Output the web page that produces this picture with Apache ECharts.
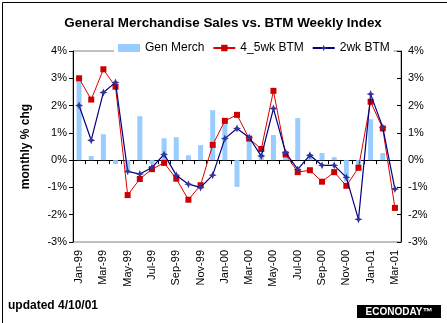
<!DOCTYPE html>
<html>
<head>
<meta charset="utf-8">
<script src="https://cdn.jsdelivr.net/npm/echarts@6/dist/echarts.min.js"></script>
<style>
  html, body { margin: 0; padding: 0; background: #fff; }
  #chart { width: 447px; height: 323px; }
</style>
</head>
<body>
<div id="chart"></div>
<script>
// Monthly categories, Jan-99 through Mar-01
const months = ['Jan-99','Feb-99','Mar-99','Apr-99','May-99','Jun-99','Jul-99','Aug-99','Sep-99','Oct-99','Nov-99','Dec-99',
                'Jan-00','Feb-00','Mar-00','Apr-00','May-00','Jun-00','Jul-00','Aug-00','Sep-00','Oct-00','Nov-00','Dec-00',
                'Jan-01','Feb-01','Mar-01'];

// General merchandise sales, monthly % change (Mar-01 not yet reported)
const genMerch = [2.95, 0.15, 0.95, -0.14, -0.37, 1.61, -0.14, 0.80, 0.84, 0.18, 0.55, 1.83,
                  1.47, -0.98, 0.77, 0.22, 0.92, 0.13, 1.54, 0.20, 0.26, 0.11, -0.78, -0.18,
                  1.50, 0.26, null];

// BTM weekly index, 4-5 week average, monthly % change
const btm45 = [3.00, 2.22, 3.33, 2.69, -1.28, -0.69, -0.33, -0.10, -0.68, -1.45, -0.92, 0.56,
               1.44, 1.66, 0.79, 0.41, 2.54, 0.21, -0.44, -0.37, -0.79, -0.44, -0.94, -0.28,
               2.14, 1.16, -1.75];

// BTM weekly index, 2 week average, monthly % change
const btm2 = [2.00, 0.73, 2.48, 2.85, -0.41, -0.51, -0.27, 0.21, -0.55, -0.88, -1.00, -0.55,
              0.79, 1.16, 0.83, 0.15, 1.89, 0.28, -0.34, 0.18, -0.19, -0.19, -0.63, -2.17,
              2.42, 1.20, -1.06];

// Value axis ticks (percent)
const yMin = -3, yMax = 4, yStep = 1;

const FONT = '"Liberation Sans", Arial, sans-serif';
const star = 'path://M0,-10 L3,-3 L10,0 L3,3 L0,10 L-3,3 L-10,0 L-3,-3 Z';

const chart = echarts.init(document.getElementById('chart'), null, { renderer: 'canvas' });

const yAxisBase = {
  type: 'value', min: yMin, max: yMax, interval: yStep,
  splitLine: { show: false },
  axisLine: { show: true, lineStyle: { color: '#000', width: 1 } },
  axisTick: { show: true, length: 4, lineStyle: { color: '#000' } },
  axisLabel: { formatter: '{value}%', color: '#000', fontFamily: FONT, fontSize: 11 }
};

chart.setOption({
  animation: false,
  backgroundColor: '#fff',
  grid: {
    left: 73, right: 46, top: 51, bottom: 81,
    show: true, borderColor: '#808080', borderWidth: 1, backgroundColor: 'transparent'
  },
  legend: {
    left: 114, top: 40,
    backgroundColor: '#fff',
    padding: [2, 4, 2, 4],
    itemWidth: 22, itemHeight: 8, itemGap: 8,
    textStyle: { fontFamily: FONT, fontSize: 12, color: '#000' },
    data: [
      { name: 'Gen Merch', icon: 'rect' },
      { name: '4_5wk BTM' },
      { name: '2wk BTM' }
    ]
  },
  xAxis: [
    {
      type: 'category', data: months, position: 'bottom',
      axisLine: { show: false },
      axisTick: { show: false },
      axisLabel: {
        interval: 1, rotate: 90, margin: 8,
        color: '#000', fontFamily: FONT, fontSize: 11
      }
    },
    {
      type: 'category', data: months, position: 'bottom',
      axisLine: { show: true, onZero: true, lineStyle: { color: '#000', width: 1 } },
      axisTick: { show: true, interval: 0, length: 4, lineStyle: { color: '#000' } },
      axisLabel: { show: false }
    }
  ],
  yAxis: [
    Object.assign({}, yAxisBase, {
      position: 'left',
      name: 'monthly % chg', nameLocation: 'middle', nameGap: 41, nameRotate: 90,
      nameTextStyle: { fontFamily: FONT, fontSize: 12, fontWeight: 'bold', color: '#000' },
      axisLabel: Object.assign({}, yAxisBase.axisLabel, { margin: 6 })
    }),
    Object.assign({}, yAxisBase, {
      position: 'right',
      axisTick: { show: true, inside: true, length: 4, lineStyle: { color: '#000' } },
      axisLabel: Object.assign({}, yAxisBase.axisLabel, { margin: 7 })
    })
  ],
  series: [
    {
      name: 'Gen Merch', type: 'bar', data: genMerch,
      xAxisIndex: 0, yAxisIndex: 0,
      barWidth: 5,
      itemStyle: { color: '#99CCFF' },
      z: 1
    },
    {
      name: '4_5wk BTM', type: 'line', data: btm45,
      xAxisIndex: 0, yAxisIndex: 0,
      symbol: 'rect', symbolSize: 6,
      lineStyle: { color: '#E00000', width: 1 },
      itemStyle: { color: '#CC0000' },
      z: 3
    },
    {
      name: '2wk BTM', type: 'line', data: btm2,
      xAxisIndex: 0, yAxisIndex: 0,
      symbol: star, symbolSize: 8,
      lineStyle: { color: '#000080', width: 1.2 },
      itemStyle: { color: '#333399' },
      z: 4
    }
  ],
  graphic: [
    {
      type: 'rect', left: 0, top: 0, silent: true,
      shape: { x: 0.5, y: 0.5, width: 446, height: 322 },
      style: { fill: 'none', stroke: '#000', lineWidth: 1 }
    },
    {
      type: 'text', x: 223, y: 23,
      style: {
        text: 'General Merchandise Sales vs. BTM Weekly Index',
        font: 'bold 13.4px ' + FONT, fill: '#000',
        textAlign: 'center', textVerticalAlign: 'middle'
      }
    },
    {
      type: 'text', x: 8, y: 306,
      style: {
        text: 'updated 4/10/01',
        font: 'bold 12px ' + FONT, fill: '#000',
        textAlign: 'left', textVerticalAlign: 'middle'
      }
    },
    {
      type: 'group', x: 357, y: 305,
      children: [
        { type: 'rect', shape: { x: 0, y: 0, width: 84, height: 13 }, style: { fill: '#000' } },
        {
          type: 'text', x: 42, y: 7,
          style: {
            text: 'ECONODAY™', font: 'bold 10px ' + FONT, fill: '#fff',
            textAlign: 'center', textVerticalAlign: 'middle'
          }
        }
      ]
    }
  ]
});
</script>
</body>
</html>
